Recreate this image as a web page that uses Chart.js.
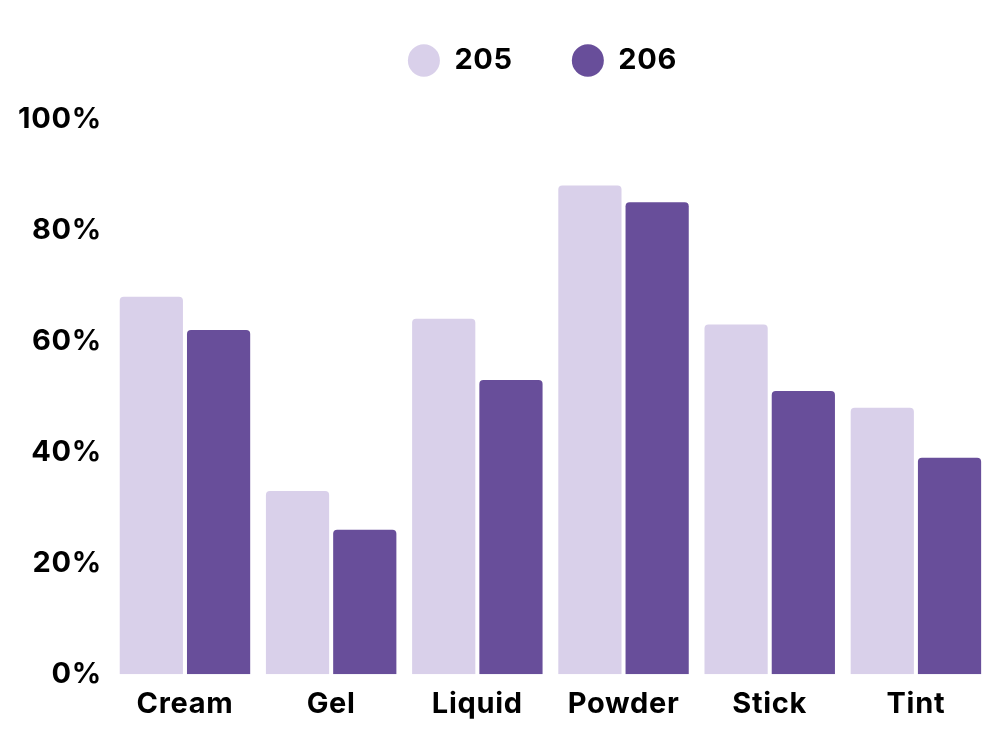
<!DOCTYPE html>
<html>
<head>
<meta charset="utf-8">
<script src="https://cdn.jsdelivr.net/npm/chart.js@4/dist/chart.umd.min.js"></script>
<style>
    html, body { margin: 0; padding: 0; background: #ffffff; }
    #wrap { width: 1000px; height: 750px; }
</style>
</head>
<body>
<div id="wrap"><canvas id="barChart"></canvas></div>
<script>
// Chart data
const categories = ['Cream', 'Gel', 'Liquid', 'Powder', 'Stick', 'Tint'];
const values205 = [68, 33, 64, 88, 63, 48];
const values206 = [62, 26, 53, 85, 51, 39];
const yTicks = [0, 20, 40, 60, 80, 100];

const lightPurple = '#d9d0ea';
const darkPurple = '#684e9a';

Chart.defaults.font.family = "Inter, 'DejaVu Sans', sans-serif";
Chart.defaults.font.weight = 'bold';
Chart.defaults.color = '#000000';

// a little wider lettering, closer to the original geometric font
const spacingPlugin = {
    id: 'spacing',
    beforeUpdate(chart) { chart.ctx.letterSpacing = '0.7px'; },
    beforeDraw(chart) { chart.ctx.letterSpacing = '0.7px'; }
};

// move the legend without touching the chart area
const legendShift = {
    id: 'legendShift',
    afterLayout(chart) {
        const leg = chart.legend;
        leg.left += 40;
        leg.right += 40;
        leg.top -= 34;
        leg.bottom -= 34;
    }
};

const ctx = document.getElementById('barChart').getContext('2d');

const barChart = new Chart(ctx, {
    type: 'bar',
    data: {
        labels: categories,
        datasets: [{
            label: '205',
            data: values205,
            backgroundColor: lightPurple,
            borderRadius: { topLeft: 4, topRight: 4 },
            borderSkipped: 'bottom'
        }, {
            label: '206',
            data: values206,
            backgroundColor: darkPurple,
            borderRadius: { topLeft: 4, topRight: 4 },
            borderSkipped: 'bottom'
        }]
    },
    plugins: [spacingPlugin, legendShift],
    options: {
        responsive: true,
        maintainAspectRatio: false,
        animation: false,
        datasets: {
            bar: {
                categoryPercentage: 0.92,
                barPercentage: 0.94
            }
        },
        layout: {
            padding: { top: 21, right: 11, left: 16, bottom: 23 }
        },
        plugins: {
            tooltip: { enabled: false },
            legend: {
                position: 'top',
                labels: {
                    usePointStyle: true,
                    pointStyle: 'circle',
                    boxHeight: 23,
                    pointStyleWidth: 32,
                    padding: 59,
                    font: { size: 29, weight: 'bold' }
                }
            }
        },
        scales: {
            x: {
                grid: { display: false },
                border: { display: false },
                ticks: {
                    padding: 5,
                    font: { size: 29, weight: 'bold' }
                }
            },
            y: {
                min: 0,
                max: 100,
                afterBuildTicks: function (axis) {
                    axis.ticks = yTicks.map(v => ({ value: v }));
                },
                grid: { display: false },
                border: { display: false },
                ticks: {
                    padding: 2,
                    font: { size: 29, weight: 'bold' },
                    callback: function (value) {
                        return value + '%';
                    }
                }
            }
        }
    }
});
</script>
</body>
</html>
